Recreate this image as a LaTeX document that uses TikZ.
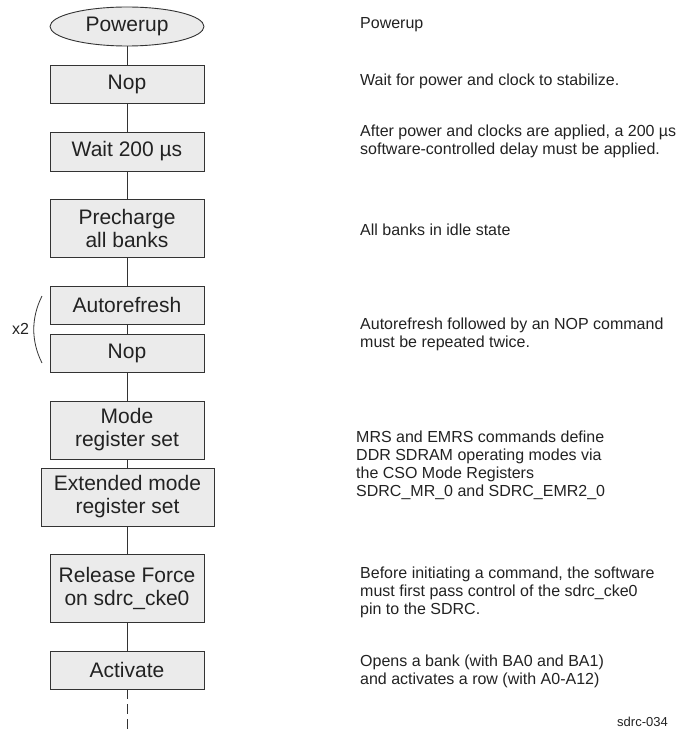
\documentclass[tikz,border=0pt]{standalone}
\usepackage{fontspec}
\setmainfont{Liberation Sans}
\usetikzlibrary{shapes.geometric}
\definecolor{boxfill}{HTML}{EBEBEB}
\definecolor{boxline}{HTML}{333333}
\definecolor{txt}{HTML}{222222}
\tikzset{
  stepbox/.style={draw=boxline, fill=boxfill, line width=0.9pt, minimum width=154pt, inner sep=0pt, align=center, text=txt, font=\fontsize{21}{23}\selectfont},
  startoval/.style={ellipse, draw=boxline, fill=boxfill, line width=0.9pt, minimum width=154pt, minimum height=39pt, inner sep=0pt, text=txt, font=\fontsize{21}{23}\selectfont},
  note/.style={anchor=west, align=left, inner sep=0pt, text=txt, font=\fontsize{16}{18}\selectfont},
  link/.style={draw=boxline, line width=0.9pt}
}
\begin{document}
\begin{tikzpicture}[x=1pt,y=-1pt]
\useasboundingbox (0,0) rectangle (675,730);
% left column
\node[startoval] (pu) at (127,26.5) {Powerup};
\node[stepbox, minimum height=38pt] (nop1) at (127,84) {Nop};
\node[stepbox, minimum height=39pt] (wait) at (127,151.5) {Wait 200 µs};
\node[stepbox, minimum height=58pt] (pre) at (127,228) {Precharge\\all banks};
\node[stepbox, minimum height=38pt] (auto) at (127,305) {Autorefresh};
\node[stepbox, minimum height=38pt] (nop2) at (127,353) {Nop};
\node[stepbox, minimum height=58pt] (mrs) at (127,430) {Mode\\register set};
\node[stepbox, minimum height=58pt, minimum width=173pt] (emrs) at (127.5,497) {Extended mode\\register set};
\node[stepbox, minimum height=68pt] (rel) at (127,588) {Release Force\\on sdrc\_cke0};
\node[stepbox, minimum height=38pt] (act) at (127,670) {Activate};
\coordinate (end) at (127,730);
\draw[link] (pu) -- (nop1);
\draw[link] (nop1) -- (wait);
\draw[link] (wait) -- (pre);
\draw[link] (pre) -- (auto);
\draw[link] (auto) -- (nop2);
\draw[link] (nop2) -- (mrs);
\draw[link] (mrs.south) -- (emrs.north -| mrs.south);
\draw[link] (emrs.south -| rel.north) -- (rel);
\draw[link] (rel) -- (act);
\draw[link, dash pattern=on 10pt off 5pt] (act) -- (end);
% repeat bracket
\draw[boxline, line width=0.8pt] (42,296) .. controls (31,318) and (31,341) .. (42,363);
\node[note, anchor=center] (x2) at (20.5,329) {x2};
% right column notes
\node[note] (n1) at (360,25) {Powerup};
\node[note] (n2) at (360,81) {Wait for power and clock to stabilize.};
\node[note] (n3) at (360,141) {After power and clocks are applied, a 200 µs\\software-controlled delay must be applied.};
\node[note] (n4) at (360,230) {All banks in idle state};
\node[note] (n5) at (360,334) {Autorefresh followed by an NOP command\\must be repeated twice.};
\node[note] (n6) at (356,465) {MRS and EMRS commands define\\DDR SDRAM operating modes via\\the CSO Mode Registers\\SDRC\_MR\_0 and SDRC\_EMR2\_0};
\node[note] (n7) at (360,592) {Before initiating a command, the software\\must first pass control of the sdrc\_cke0\\pin to the SDRC.};
\node[note] (n8) at (360,671) {Opens a bank (with BA0 and BA1)\\and activates a row (with A0-A12)};
\node[note, font=\fontsize{13}{15}\selectfont] (tag) at (617,722) {sdrc-034};
\end{tikzpicture}
\end{document}
